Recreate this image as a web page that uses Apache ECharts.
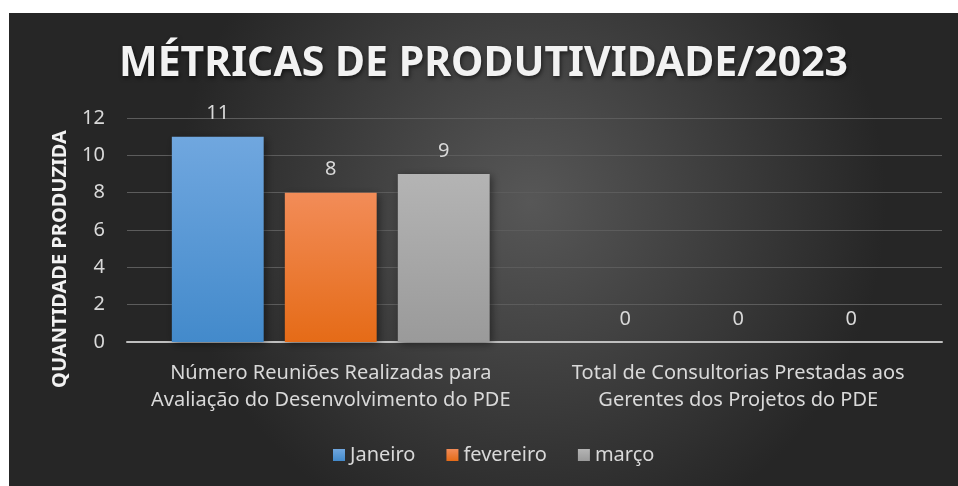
<!DOCTYPE html>
<html lang="pt">
<head>
<meta charset="UTF-8">
<title>Métricas de Produtividade/2023</title>
<script src="https://cdn.jsdelivr.net/npm/echarts@6/dist/echarts.min.js"></script>
<style>
    html, body { margin: 0; padding: 0; background: #ffffff; }
    #main { position: absolute; left: 9px; top: 13px; width: 949px; height: 473px; }
</style>
</head>
<body>
<div id="main"></div>
<script type="text/javascript">
    // dados do gráfico
    var categorias = [
        'Número Reuniões Realizadas para\nAvaliação do Desenvolvimento do PDE',
        'Total de Consultorias Prestadas aos\nGerentes dos Projetos do PDE'
    ];
    var meses = ['Janeiro', 'fevereiro', 'março'];
    var janeiro = [11, 0];
    var fevereiro = [8, 0];
    var marco = [9, 0];
    var yTicks = [0, 2, 4, 6, 8, 10, 12];

    var fonte = '"Noto Sans", "Open Sans", sans-serif';
    var corTexto = '#d9d9d9';

    function grad(top, bottom) {
        return new echarts.graphic.LinearGradient(0, 0, 0, 1, [
            { offset: 0, color: top },
            { offset: 1, color: bottom }
        ]);
    }

    var cores = [
        grad('#70a7df', '#438acb'),
        grad('#f28c58', '#e56b17'),
        grad('#b4b4b4', '#9a9a9a')
    ];
    var valores = [janeiro, fevereiro, marco];

    var series = meses.map(function (m, i) {
        return {
            name: m,
            type: 'bar',
            data: valores[i],
            barGap: '23%',
            barCategoryGap: '22%',
            itemStyle: {
                color: cores[i],
                shadowBlur: 8,
                shadowColor: 'rgba(0,0,0,0.45)',
                shadowOffsetX: 2,
                shadowOffsetY: 2
            },
            label: {
                show: true,
                position: 'top',
                distance: 13,
                color: corTexto,
                fontFamily: fonte,
                fontSize: 20
            }
        };
    });

    var myChart = echarts.init(document.getElementById('main'));
    var option = {
        backgroundColor: {
            type: 'radial', x: 0.55, y: 0.4, r: 0.75,
            colorStops: [
                { offset: 0, color: '#575757' },
                { offset: 1, color: '#262626' }
            ]
        },
        animation: false,
        textStyle: { fontFamily: fonte },
        graphic: [
            {
                type: 'text',
                left: 'center',
                top: 31,
                style: {
                    text: 'MÉTRICAS DE PRODUTIVIDADE/2023',
                    fill: '#f2f2f2',
                    font: 'bold 41px ' + fonte,
                    textShadowColor: 'rgba(0,0,0,0.6)',
                    textShadowBlur: 4,
                    textShadowOffsetX: 1,
                    textShadowOffsetY: 2
                }
            },
            {
                type: 'text',
                x: 51,
                y: 246,
                rotation: Math.PI / 2,
                style: {
                    text: 'QUANTIDADE PRODUZIDA',
                    fill: '#f2f2f2',
                    font: 'bold 20px ' + fonte,
                    align: 'center',
                    verticalAlign: 'middle'
                }
            }
        ],
        legend: {
            data: meses,
            bottom: 16,
            left: 319,
            itemWidth: 12,
            itemHeight: 12,
            itemGap: 31,
            icon: 'rect',
            textStyle: { color: corTexto, fontSize: 20, fontFamily: fonte }
        },
        grid: { left: 118, right: 16, top: 105, bottom: 144 },
        xAxis: {
            type: 'category',
            data: categorias,
            axisLine: { lineStyle: { color: '#bfbfbf', width: 2 } },
            axisTick: { show: false },
            axisLabel: {
                interval: 0,
                color: corTexto,
                fontSize: 20,
                lineHeight: 27,
                margin: 18,
                fontFamily: fonte
            }
        },
        yAxis: {
            type: 'value',
            min: yTicks[0],
            max: yTicks[yTicks.length - 1],
            interval: 2,
            axisLine: { show: false },
            axisTick: { show: false },
            splitLine: { lineStyle: { color: '#5c5c5c', width: 1 } },
            axisLabel: {
                color: corTexto,
                fontSize: 20,
                margin: 22,
                fontFamily: fonte
            }
        },
        series: series
    };
    myChart.setOption(option);
</script>
</body>
</html>
